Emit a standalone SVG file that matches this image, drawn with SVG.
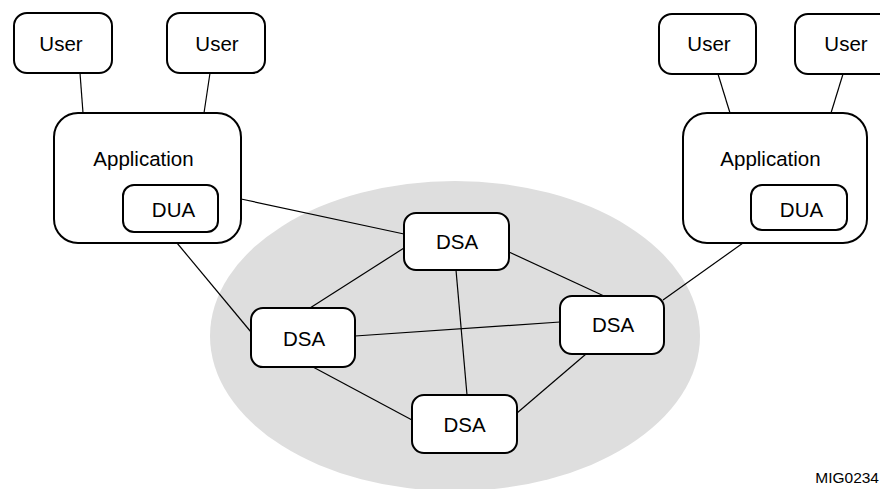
<svg xmlns="http://www.w3.org/2000/svg" width="880" height="489" viewBox="0 0 880 489">
<style>
.box{fill:#fff;stroke:#000;stroke-width:2}
.t{font-family:"Liberation Sans",Arial,sans-serif;font-size:20.5px;fill:#000;text-anchor:middle}
.c line{stroke:#000;stroke-width:1.2}
</style>
<rect width="880" height="489" fill="#fff"/>
<ellipse id="cloud" cx="455" cy="336" rx="245" ry="155" fill="#dedede"/>
<g class="c" id="connectors">
<line x1="80" y1="73" x2="83" y2="113"/>
<line x1="210" y1="73" x2="204" y2="113"/>
<line x1="718" y1="74" x2="730" y2="113"/>
<line x1="843" y1="74" x2="831" y2="113"/>
<line x1="241" y1="199" x2="404" y2="234"/>
<line x1="177" y1="243" x2="251" y2="332"/>
<line x1="404" y1="248" x2="310" y2="308"/>
<line x1="509" y1="252" x2="604" y2="296"/>
<line x1="456" y1="270" x2="467" y2="395"/>
<line x1="355" y1="336" x2="560" y2="322"/>
<line x1="313" y1="367" x2="412" y2="420"/>
<line x1="586" y1="354" x2="517" y2="413"/>
<line x1="663" y1="300" x2="743" y2="243"/>
</g>
<g id="user1"><rect class="box" x="14" y="13" width="98" height="60" rx="13"/><text class="t" x="61" y="50.5">User</text></g>
<g id="user2"><rect class="box" x="167" y="13" width="98" height="60" rx="13"/><text class="t" x="217" y="50.5">User</text></g>
<g id="user3"><rect class="box" x="659" y="14" width="97" height="60" rx="13"/><text class="t" x="709" y="50.5">User</text></g>
<g id="user4"><rect class="box" x="795" y="14" width="98" height="60" rx="13"/><text class="t" x="846" y="50.5">User</text></g>
<g id="app1"><rect class="box" x="54" y="113" width="187" height="130" rx="24"/><text class="t" x="143.5" y="166">Application</text>
<g id="dua1"><rect class="box" x="123" y="185" width="95" height="47" rx="11"/><text class="t" x="173.5" y="217">DUA</text></g></g>
<g id="app2"><rect class="box" x="683" y="113" width="184" height="130" rx="24"/><text class="t" x="770.5" y="166">Application</text>
<g id="dua2"><rect class="box" x="751" y="185" width="96" height="45" rx="11"/><text class="t" x="801.5" y="217">DUA</text></g></g>
<g id="dsa_top"><rect class="box" x="404" y="213" width="105" height="57" rx="12"/><text class="t" x="457" y="249">DSA</text></g>
<g id="dsa_left"><rect class="box" x="251" y="308" width="104" height="59" rx="12"/><text class="t" x="304" y="346">DSA</text></g>
<g id="dsa_right"><rect class="box" x="560" y="296" width="104" height="58" rx="12"/><text class="t" x="613" y="332">DSA</text></g>
<g id="dsa_bottom"><rect class="box" x="412" y="395" width="105" height="58" rx="12"/><text class="t" x="464.5" y="432">DSA</text></g>
<text id="fig" x="879" y="483" font-family="Liberation Sans,Arial,sans-serif" font-size="15.5" text-anchor="end" fill="#000">MIG0234</text>
</svg>
